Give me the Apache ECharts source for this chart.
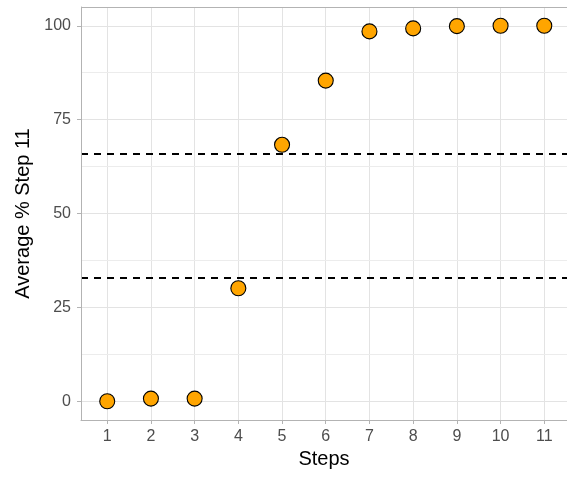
<!DOCTYPE html>
<html>
<head>
<meta charset="utf-8">
<script src="https://cdn.jsdelivr.net/npm/echarts@6/dist/echarts.min.js"></script>
<style>
html,body{margin:0;padding:0;background:#fff;}
#chart{width:567px;height:479px;}
</style>
</head>
<body>
<div id="chart"></div>
<script>
const steps = [1, 2, 3, 4, 5, 6, 7, 8, 9, 10, 11];
const avgPct = [0, 0.7, 0.7, 30.1, 68.3, 85.4, 98.5, 99.3, 99.9, 100, 100];
const yTicks = [0, 25, 50, 75, 100];
const yMinor = [12.5, 37.5, 62.5, 87.5];
const refLines = [33, 66];

const chart = echarts.init(document.getElementById('chart'), null, {renderer: 'canvas'});
const font = 'Liberation Sans, Arial, Helvetica, sans-serif';
const gridColor = '#e3e3e3';
const yMin = -5, yMax = 105;

const option = {
  animation: false,
  backgroundColor: '#ffffff',
  grid: {left: 81, top: 7, right: 0, bottom: 59, show: false},
  xAxis: {
    type: 'value', min: 0.4, max: 11.52, z: 10,
    name: 'Steps', nameLocation: 'middle', nameGap: 29,
    nameTextStyle: {fontFamily: font, fontSize: 20, color: '#000'},
    axisLine: {show: true, onZero: false, lineStyle: {color: '#b3b3b3', width: 1}},
    axisTick: {show: true, length: 4, lineStyle: {color: '#b3b3b3'}, customValues: steps},
    axisLabel: {fontFamily: font, fontSize: 16, color: '#4d4d4d', margin: 9, customValues: steps},
    splitLine: {show: false}
  },
  yAxis: {
    type: 'value', min: yMin, max: yMax, z: 10,
    name: 'Average % Step 11', nameLocation: 'middle', nameGap: 46,
    nameTextStyle: {fontFamily: font, fontSize: 20, color: '#000'},
    axisLine: {show: true, onZero: false, lineStyle: {color: '#b3b3b3', width: 1}},
    axisTick: {show: true, length: 4, lineStyle: {color: '#b3b3b3'}, customValues: yTicks},
    axisLabel: {fontFamily: font, fontSize: 16, color: '#4d4d4d', margin: 10, customValues: yTicks},
    splitLine: {show: false}
  },
  series: [
    {
      type: 'scatter', data: [], z: 1, silent: true,
      markLine: {
        silent: true, symbol: 'none', animation: false,
        label: {show: false},
        lineStyle: {color: gridColor, width: 1, type: 'solid'},
        data: steps.map(v => ({xAxis: v}))
          .concat(yTicks.map(v => ({yAxis: v})))
          .concat(yMinor.map(v => ({yAxis: v, lineStyle: {color: '#ececec', width: 1, type: 'solid'}})))
          .concat([{yAxis: yMax, lineStyle: {color: '#b3b3b3', width: 1, type: 'solid'}}])
      }
    },
    {
      type: 'scatter', data: [], z: 2, silent: true,
      markLine: {
        silent: true, symbol: 'none', animation: false,
        label: {show: false},
        lineStyle: {color: '#000', width: 1.8, type: [7, 6]},
        data: refLines.map(v => ({yAxis: v}))
      }
    },
    {
      type: 'scatter', z: 5,
      symbol: 'circle', symbolSize: 15,
      itemStyle: {color: '#FFA500', borderColor: '#000', borderWidth: 1.1, opacity: 1},
      data: steps.map((s, i) => [s, avgPct[i]])
    }
  ]
};
chart.setOption(option);
</script>
</body>
</html>
